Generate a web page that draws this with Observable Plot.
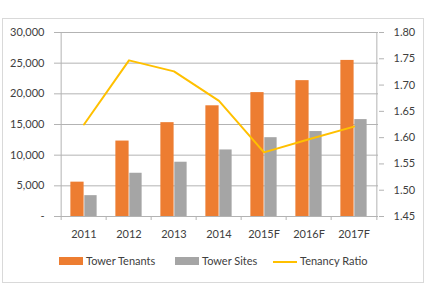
<!DOCTYPE html>
<html>
<head>
<meta charset="utf-8">
<script src="https://cdn.jsdelivr.net/npm/d3@7"></script>
<script src="https://cdn.jsdelivr.net/npm/@observablehq/plot@0.6"></script>
<style>
  body { margin: 0; background: #fff; font-family: Lato, "Open Sans", sans-serif; }
  #wrap { position: relative; width: 427px; height: 285px; }
  #border { position: absolute; left: 2px; top: 18px; width: 420px; height: 263px; border: 1px solid #d9d9d9; }
  #chart { position: absolute; left: 0; top: 0; }
  .leg { position: absolute; font-size: 11px; color: #404040; white-space: nowrap; }
  .sw { position: absolute; }
</style>
</head>
<body>
<div id="wrap">
  <div id="border"></div>
  <div id="chart"></div>
  <div id="legend"></div>
</div>
<script>
// Tower portfolio, actual and forecast
const years = ["2011", "2012", "2013", "2014", "2015F", "2016F", "2017F"];
const towerTenants = [5600, 12300, 15300, 18050, 20200, 22150, 25450];
const towerSites = [3400, 7050, 8850, 10850, 12850, 13850, 15800];
const tenancyRatio = [1.625, 1.747, 1.726, 1.670, 1.572, 1.597, 1.621];

const leftTicks = [0, 5000, 10000, 15000, 20000, 25000, 30000];
const rightTicks = [1.45, 1.50, 1.55, 1.60, 1.65, 1.70, 1.75, 1.80];

const colors = { tenants: "#ED7D31", sites: "#A5A5A5", ratio: "#FFC000" };

// secondary axis (ratio) mapped onto the primary domain
const leftMax = 30000, rMin = 1.45, rMax = 1.80;
const toLeft = r => (r - rMin) / (rMax - rMin) * leftMax;
const fromLeft = v => rMin + v / leftMax * (rMax - rMin);

const W = 427, H = 245;
const margin = { top: 32, right: 49, bottom: 29, left: 58 };
const bw = (W - margin.left - margin.right) / years.length;

const rows = years.map((y, i) => ({
  year: y, tenants: towerTenants[i], sites: towerSites[i], ratio: toLeft(tenancyRatio[i])
}));

const axisColor = "#b3b3b3";
const textColor = "#404040";

const chart = Plot.plot({
  width: W,
  height: H,
  marginTop: margin.top,
  marginRight: margin.right,
  marginBottom: margin.bottom,
  marginLeft: margin.left,
  style: { fontFamily: "Lato, 'Open Sans', sans-serif", fontSize: "11px", color: textColor, background: "transparent" },
  x: { type: "band", domain: years, padding: 0 },
  y: { domain: [0, leftMax] },
  marks: [
    Plot.gridY(leftTicks, { stroke: axisColor, strokeOpacity: 1 }),
    Plot.barY(rows, { x: "year", y: "tenants", fill: colors.tenants, insetLeft: bw * 0.205, insetRight: bw * 0.49 }),
    Plot.barY(rows, { x: "year", y: "sites", fill: colors.sites, insetLeft: bw * 0.51, insetRight: bw * 0.205 }),
    Plot.line(rows, { x: "year", y: "ratio", stroke: colors.ratio, strokeWidth: 2 }),
    // left and right axis lines, category tick marks below the baseline
    Plot.ruleX([years[0]], { x: d => d, dx: -bw / 2, stroke: axisColor, insetBottom: -4 }),
    Plot.ruleX([years[years.length - 1]], { x: d => d, dx: bw / 2, stroke: axisColor, insetBottom: -4 }),
    Plot.ruleX(years.slice(1), { x: d => d, y1: 0, y2: 0, dx: -bw / 2, stroke: axisColor, insetBottom: -4 }),
    Plot.axisY(leftTicks, {
      anchor: "left", tickSize: 4, tickPadding: 10, stroke: axisColor,
      tickFormat: d => d === 0 ? "-" : d3.format(",")(d), fill: textColor, label: null
    }),
    Plot.axisY(rightTicks.map(toLeft), {
      anchor: "right", tickSize: 5, tickPadding: 10, stroke: axisColor,
      tickFormat: d => fromLeft(d).toFixed(2), fill: textColor, label: null
    }),
    Plot.axisX({ anchor: "bottom", tickSize: 0, tickPadding: 14, fill: textColor, label: null })
  ]
});
document.getElementById("chart").appendChild(chart);

// legend below the chart
const legend = document.getElementById("legend");
const items = [
  { label: "Tower Tenants", color: colors.tenants, kind: "box", x: 59 },
  { label: "Tower Sites", color: colors.sites, kind: "box", x: 175 },
  { label: "Tenancy Ratio", color: colors.ratio, kind: "line", x: 273 }
];
for (const it of items) {
  const sw = document.createElement("div");
  sw.className = "sw";
  sw.style.left = it.x + "px";
  sw.style.width = "24px";
  sw.style.background = it.color;
  if (it.kind === "box") { sw.style.top = "257px"; sw.style.height = "8px"; }
  else { sw.style.top = "261px"; sw.style.height = "2px"; }
  legend.appendChild(sw);
  const t = document.createElement("div");
  t.className = "leg";
  t.style.left = (it.x + 27) + "px";
  t.style.top = "254px";
  t.textContent = it.label;
  legend.appendChild(t);
}
</script>
</body>
</html>
